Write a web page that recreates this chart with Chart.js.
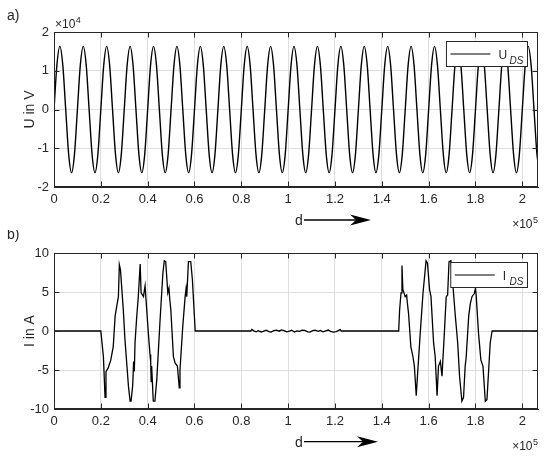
<!DOCTYPE html>
<html>
<head>
<meta charset="utf-8">
<title>U_DS und I_DS</title>
<style>
  body { margin: 0; background: #fff; }
  #wrap { position: relative; width: 550px; height: 460px; }
  canvas { position: absolute; left: 0; }
</style>
</head>
<body>
<div id="wrap">
  <canvas id="chartU" width="550" height="230" style="top:0"></canvas>
  <canvas id="chartI" width="550" height="230" style="top:230px"></canvas>
</div>

<script src="https://cdn.jsdelivr.net/npm/chart.js"></script>
<script>
// axis ticks
const dTicks = [0, 20000, 40000, 60000, 80000, 100000, 120000, 140000, 160000, 180000, 200000];
const uTicks = [-20000, -10000, 0, 10000, 20000];
const iTicks = [-10, -5, 0, 5, 10];
const dMax = 206700;

// U_DS, read every 1250 (eighth of a period)
const uStep = 1250;
const uVals = [
  0, 11500, 16300, 11500, 0, -11500, -16300, -11500,
  0, 11500, 16300, 11500, 0, -11500, -16300, -11500,
  0, 11500, 16300, 11500, 0, -11500, -16300, -11500,
  0, 11500, 16300, 11500, 0, -11500, -16300, -11500,
  0, 11500, 16300, 11500, 0, -11500, -16300, -11500,
  0, 11500, 16300, 11500, 0, -11500, -16300, -11500,
  0, 11500, 16300, 11500, 0, -11500, -16300, -11500,
  0, 11500, 16300, 11500, 0, -11500, -16300, -11500,
  0, 11500, 16300, 11500, 0, -11500, -16300, -11500,
  0, 11500, 16300, 11500, 0, -11500, -16300, -11500,
  0, 11500, 16300, 11500, 0, -11500, -16300, -11500,
  0, 11500, 16300, 11500, 0, -11500, -16300, -11500,
  0, 11500, 16300, 11500, 0, -11500, -16300, -11500,
  0, 11500, 16300, 11500, 0, -11500, -16300, -11500,
  0, 11500, 16300, 11500, 0, -11500, -16300, -11500,
  0, 11500, 16300, 11500, 0, -11500, -16300, -11500,
  0, 11500, 16300, 11500, 0, -11500, -16300, -11500,
  0, 11500, 16300, 11500, 0, -11500, -16300, -11500,
  0, 11500, 16300, 11500, 0, -11500, -16300, -11500,
  0, 11500, 16300, 11500, 0, -11500, -16300, -11500,
  0, 11500, 16300, 11500, 0, -11500, -16300
];

// I_DS, points
const iD = [
  0, 20000, 21100, 21800, 22200, 23200, 23600, 24200, 25300, 26100, 26800, 27500, 27900, 28400,
  29600, 30300, 31800, 32500, 32900, 33600, 34000, 34300, 34600, 35300, 36000, 36800, 37200,
  38200, 38900, 39300, 40300, 41000, 41300, 41500, 41700, 42400, 43100, 43900, 45300, 46500,
  47100, 47700, 48600, 49100, 49400, 49900, 51000, 51700, 52700, 53500, 53800, 55000, 56000,
  56400, 56700, 57400, 58400, 59100, 60300,
  84000, 84500, 85300, 86400, 87200, 88500, 89300, 90600, 91800, 92700, 93900, 95000, 96200,
  97100, 98300, 99400, 100600, 101500, 102700, 103800, 105000, 105900, 107100, 108400,
  109300, 110500, 111600, 112800, 113700, 114900, 116000, 117200, 118100, 119300, 120500,
  121400, 122200, 122700,
  147200, 147600, 148200, 148600, 149000, 150000, 150600, 150900, 151400, 152400, 153300,
  153900, 154700, 155300, 156400, 157600, 158900, 159500, 160400, 161000, 162100, 162800,
  163600, 164200, 165000, 165700, 166700, 167500, 168100, 168700, 169500, 170400, 171400,
  172400, 173200, 174200, 174900, 175600, 176000, 177100, 177800, 178500, 179500, 180000,
  180300, 181300, 182300, 183200, 184200, 184900, 186300, 187100, 206700
];
const iA = [
  0, 0, -3.3, -8.5, -5.2, -4.7, -4.3, -3.8, -2.0, 1.9, 3.2, 4.4, 8.5, 7.8,
  2.7, -1.1, -7.1, -9.0, -9.0, -7.0, -3.9, -5.2, -1.5, 1.7, 4.4, 8.6, 4.9,
  4.4, 5.8, 4.0, -0.3, -3.0, -4.0, -6.5, -4.5, -9.0, -9.0, -6.2, 1.4, 7.4,
  9.0, 8.9, 4.9, 5.5, 4.2, 2.7, -3.3, -4.1, -4.5, -7.3, -5.0, 0.6, 4.4,
  5.4, 4.4, 8.9, 8.9, 6.6, 0,
  0, 0.2, 0.02, -0.1, 0.05, -0.12, -0.05, 0.1, -0.08, -0.15, 0.05, 0.12, -0.02,
  0.15, 0.05, -0.1, -0.02, 0.1, -0.12, 0.02, -0.05, 0.12, 0.08, -0.1,
  -0.15, 0.05, 0.12, -0.03, 0.08, -0.1, 0.02, 0.12, -0.06, -0.14, -0.08,
  0.05, 0.18, 0,
  0, 2.7, 4.9, 8.4, 5.3, 4.4, 4.6, 3.6, 2.3, -2.0, -3.3,
  -4.5, -8.3, -5.4, -0.3, 4.9, 9.0, 8.7, 5.3, 4.4, -1.5, -3.3,
  -8.3, -4.5, -3.9, -5.8, -0.3, 4.4, 4.6, 8.9, 9.0, 5.7, 1.9,
  -1.5, -5.8, -9.0, -8.5, -4.5, -3.5, 1.9, 3.5, 4.4, 4.8, 5.5,
  4.6, -0.3, -3.7, -4.5, -9.0, -8.8, -1.5, 0, 0
];

const ink = '#262626';
const gridCol = '#dedede';
Chart.defaults.font.family = "'Liberation Sans', Arial, sans-serif";
Chart.defaults.color = ink;

// frame, inward ticks, legend box and annotations (MATLAB look)
const deco = {
  id: 'deco',
  afterDatasetsDraw(chart, args, o) {
    const ctx = chart.ctx, a = chart.chartArea;
    const sx = chart.scales.x, sy = chart.scales.y;
    ctx.save();
    ctx.strokeStyle = ink;
    ctx.lineWidth = 1;
    const L = Math.round(a.left) + 0.5, R = Math.round(a.right) - 0.5;
    const T = Math.round(a.top) + 0.5, B = Math.round(a.bottom) - 0.5;
    ctx.beginPath();
    sx.ticks.forEach(t => {
      const p = Math.round(sx.getPixelForValue(t.value)) + 0.5;
      ctx.moveTo(p, B); ctx.lineTo(p, B - 5);
      ctx.moveTo(p, T); ctx.lineTo(p, T + 5);
    });
    sy.ticks.forEach(t => {
      const p = Math.round(sy.getPixelForValue(t.value)) + 0.5;
      ctx.moveTo(L, p); ctx.lineTo(L + 5, p);
      ctx.moveTo(R, p); ctx.lineTo(R - 5, p);
    });
    ctx.stroke();
    ctx.strokeRect(L, T, R - L, B - T);

    // legend
    const parts = chart.data.datasets[0].label.split('_');
    ctx.font = "12px 'Liberation Sans', Arial";
    const wMain = ctx.measureText(parts[0]).width;
    ctx.font = "italic 10px 'Liberation Sans', Arial";
    const wSub = ctx.measureText(parts[1]).width;
    const bx2 = Math.round(a.right - 11.5) + 0.5, by1 = Math.round(a.top + 8.5) + 0.5;
    const subX = bx2 - 4 - wSub;
    const mainX = subX - o.subGap - wMain;
    const lineX2 = mainX - 8, lineX1 = lineX2 - 40;
    const bx1 = lineX1 - 4, bh = 25;
    ctx.fillStyle = '#fff';
    ctx.fillRect(bx1, by1, bx2 - bx1, bh);
    ctx.strokeRect(bx1, by1, bx2 - bx1, bh);
    const my = by1 + bh / 2;
    ctx.beginPath();
    ctx.strokeStyle = '#000';
    ctx.moveTo(lineX1, my); ctx.lineTo(lineX2, my);
    ctx.stroke();
    ctx.fillStyle = ink;
    ctx.textBaseline = 'alphabetic';
    ctx.font = "12px 'Liberation Sans', Arial";
    ctx.fillText(parts[0], mainX, my + 4.5);
    ctx.font = "italic 10px 'Liberation Sans', Arial";
    ctx.fillText(parts[1], subX, my + 9.5);

    // panel label
    ctx.font = "14px 'Liberation Sans', Arial";
    ctx.fillText(o.panel, 7, o.panelY);

    // y title
    ctx.save();
    ctx.translate(33.5, (a.top + a.bottom) / 2);
    ctx.rotate(-Math.PI / 2);
    ctx.textAlign = 'center';
    ctx.font = "14px 'Liberation Sans', Arial";
    ctx.fillText(o.yTitle, 0, 0);
    ctx.restore();

    // y exponent
    if (o.yExp) {
      ctx.font = "12px 'Liberation Sans', Arial";
      ctx.fillText('\u00d710', a.left + 1, a.top - 4);
      const w = ctx.measureText('\u00d710').width;
      ctx.font = "9px 'Liberation Sans', Arial";
      ctx.fillText(o.yExp, a.left + 1 + w + 0.5, a.top - 9);
    }

    // x title with arrow
    ctx.font = "14px 'Liberation Sans', Arial";
    ctx.fillText('d', 295, o.dY);
    const ay = o.dY - 5;
    ctx.beginPath();
    ctx.lineWidth = 1.3;
    ctx.strokeStyle = '#000';
    ctx.moveTo(304, ay); ctx.lineTo(o.arrowEnd - 12, ay);
    ctx.stroke();
    ctx.fillStyle = '#000';
    ctx.beginPath();
    ctx.moveTo(o.arrowEnd, ay);
    ctx.lineTo(o.arrowEnd - 21, ay - 5.5);
    ctx.lineTo(o.arrowEnd - 15, ay);
    ctx.lineTo(o.arrowEnd - 21, ay + 5.5);
    ctx.closePath();
    ctx.fill();

    // x exponent
    ctx.fillStyle = ink;
    ctx.font = "9px 'Liberation Sans', Arial";
    const w5 = ctx.measureText('5').width;
    ctx.fillText('5', a.right - w5, o.xExpY - 5);
    ctx.font = "12px 'Liberation Sans', Arial";
    const w10 = ctx.measureText('\u00d710').width;
    ctx.fillText('\u00d710', a.right - w5 - 0.5 - w10, o.xExpY);
    ctx.restore();
  }
};

function xScale(h) {
  return {
    type: 'linear',
    min: 0,
    max: dMax,
    afterFit: s => { s.height = h; },
    afterBuildTicks: s => { s.ticks = dTicks.map(v => ({ value: v })); },
    ticks: { padding: 5, font: { size: 13 }, autoSkip: false, maxRotation: 0, callback: v => String(v / 1e5) },
    grid: { color: gridCol, drawTicks: false },
    border: { color: ink }
  };
}

function yScale(lo, hi, ticks, div) {
  return {
    min: lo,
    max: hi,
    afterFit: s => { s.width = 54; },
    afterBuildTicks: s => { s.ticks = ticks.map(v => ({ value: v })); },
    ticks: { padding: 5, font: { size: 13 }, callback: v => String(v / div) },
    grid: { color: gridCol, drawTicks: false },
    border: { color: ink }
  };
}

new Chart(document.getElementById('chartU'), {
  type: 'line',
  data: {
    datasets: [{
      label: 'U_DS',
      data: uVals.map((v, i) => ({ x: i * uStep, y: v })),
      borderColor: '#000',
      borderWidth: 1.4,
      pointRadius: 0,
      cubicInterpolationMode: 'monotone'
    }]
  },
  options: {
    responsive: false,
    animation: false,
    events: [],
    layout: { autoPadding: false, padding: { top: 32, right: 12, left: 0, bottom: 0 } },
    scales: { x: xScale(43), y: yScale(-20000, 20000, uTicks, 1e4) },
    plugins: {
      legend: { display: false },
      tooltip: { enabled: false },
      deco: { panel: 'a)', panelY: 19.5, yTitle: 'U in V', yExp: '4', subGap: 2.5, dY: 225, arrowEnd: 371, xExpY: 228.3 }
    }
  },
  plugins: [deco]
});

new Chart(document.getElementById('chartI'), {
  type: 'line',
  data: {
    datasets: [{
      label: 'I_DS',
      data: iD.map((d, k) => ({ x: d, y: iA[k] })),
      borderColor: '#000',
      borderWidth: 1.3,
      pointRadius: 0,
      tension: 0
    }]
  },
  options: {
    responsive: false,
    animation: false,
    events: [],
    layout: { autoPadding: false, padding: { top: 23, right: 12, left: 0, bottom: 0 } },
    scales: { x: xScale(51), y: yScale(-10, 10, iTicks, 1) },
    plugins: {
      legend: { display: false },
      tooltip: { enabled: false },
      deco: { panel: 'b)', panelY: 9, yTitle: 'I in A', yExp: null, subGap: 3.5, dY: 216.7, arrowEnd: 378, xExpY: 220 }
    }
  },
  plugins: [deco]
});
</script>
</body>
</html>
